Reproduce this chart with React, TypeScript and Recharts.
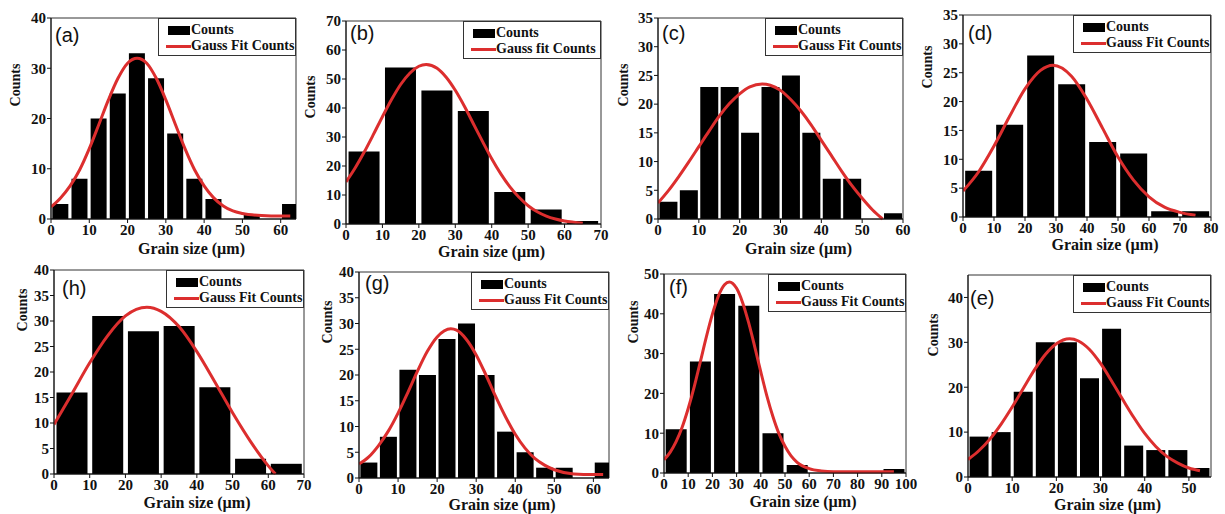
import React from "react";
import {
  ComposedChart,
  Bar,
  Line,
  XAxis,
  YAxis,
  Legend,
  ReferenceArea,
} from "recharts";

const SERIF = '"Liberation Serif", "Times New Roman", serif';
const SANS = '"Liberation Sans", Arial, sans-serif';
const RED = "#dc2e2e";
const INK = "#111";

// (a)
const binsA = [2.5, 7.5, 12.5, 17.5, 22.5, 27.5, 32.5, 37.5, 42.5, 47.5, 52.5, 57.5, 62.5];
const countsA = [3, 8, 20, 25, 33, 28, 17, 8, 4, 0, 1, 0, 3];
const fitXA = [0, 2.5, 5, 7.5, 10, 12.5, 15, 17.5, 20, 22.5, 25, 27.5, 30, 32.5, 35, 37.5, 40, 42.5, 45, 47.5, 50, 55, 60, 62.5];
const fitYA = [2.4, 4.2, 6.6, 9.8, 14.0, 18.8, 23.7, 28.0, 31.0, 32.0, 31.0, 28.0, 23.7, 18.8, 14.0, 9.8, 6.6, 4.2, 2.6, 1.6, 1.1, 0.7, 0.6, 0.6];
const xTicksA = [0, 10, 20, 30, 40, 50, 60];
const yTicksA = [0, 10, 20, 30, 40];

// (b)
const binsB = [5, 15, 25, 35, 45, 55, 65];
const countsB = [25, 54, 46, 39, 11, 5, 1];
const fitXB = [0, 2.5, 5, 7.5, 10, 12.5, 15, 17.5, 20, 22, 25, 27.5, 30, 32.5, 35, 37.5, 40, 42.5, 45, 47.5, 50, 52.5, 55, 57.5, 60, 62.5, 65];
const fitYB = [14.5, 19.3, 24.8, 30.8, 37.0, 42.9, 48.1, 52.0, 54.4, 55.0, 53.7, 50.6, 46.1, 40.6, 34.5, 28.4, 22.5, 17.3, 12.8, 9.2, 6.3, 4.2, 2.7, 1.7, 1.0, 0.6, 0.3];
const xTicksB = [0, 10, 20, 30, 40, 50, 60, 70];
const yTicksB = [0, 10, 20, 30, 40, 50, 60, 70];

// (c)
const binsC = [2.5, 7.5, 12.5, 17.5, 22.5, 27.5, 32.5, 37.5, 42.5, 47.5, 52.5, 57.5];
const countsC = [3, 5, 23, 23, 15, 23, 25, 15, 7, 7, 0, 1];
const fitXC = [0, 2.5, 5, 7.5, 10, 12.5, 15, 17.5, 20, 22.5, 25.5, 27.5, 30, 32.5, 35, 37.5, 40, 42.5, 45, 47.5, 50, 52.5, 55];
const fitYC = [2.8, 4.9, 7.3, 9.9, 12.6, 15.3, 17.9, 20.1, 21.8, 23.0, 23.5, 23.3, 22.4, 20.8, 18.8, 16.4, 13.7, 11.0, 8.3, 5.8, 3.6, 1.6, 0.0];
const xTicksC = [0, 10, 20, 30, 40, 50, 60];
const yTicksC = [0, 5, 10, 15, 20, 25, 30, 35];

// (d)
const binsD = [5, 15, 25, 35, 45, 55, 65, 75];
const countsD = [8, 16, 28, 23, 13, 11, 1, 1];
const fitXD = [0, 5, 10, 15, 20, 25, 29, 35, 40, 45, 50, 55, 60, 65, 70, 75];
const fitYD = [4.5, 7.8, 12.3, 17.4, 22.2, 25.4, 26.3, 24.4, 20.4, 15.4, 10.4, 6.4, 3.5, 1.7, 0.8, 0.3];
const xTicksD = [0, 10, 20, 30, 40, 50, 60, 70, 80];
const yTicksD = [0, 5, 10, 15, 20, 25, 30, 35];

// (h)
const binsH = [5, 15, 25, 35, 45, 55, 65];
const countsH = [16, 31, 28, 29, 17, 3, 2];
const fitXH = [0, 5, 10, 15, 20, 26, 30, 35, 40, 45, 50, 55, 60, 62];
const fitYH = [9.7, 15.7, 21.8, 27.1, 31.0, 32.7, 31.9, 28.9, 24.0, 18.1, 12.0, 6.4, 1.6, 0];
const xTicksH = [0, 10, 20, 30, 40, 50, 60, 70];
const yTicksH = [0, 5, 10, 15, 20, 25, 30, 35, 40];

// (g)
const binsG = [2.5, 7.5, 12.5, 17.5, 22.5, 27.5, 32.5, 37.5, 42.5, 47.5, 52.5, 57.5, 62.5];
const countsG = [3, 8, 21, 20, 27, 30, 20, 9, 5, 2, 2, 0, 3];
const fitXG = [0, 2.5, 5, 7.5, 10, 12.5, 15, 17.5, 20, 23.5, 25, 27.5, 30, 32.5, 35, 37.5, 40, 42.5, 45, 47.5, 50, 55, 60, 62.5];
const fitYG = [2.7, 4.1, 6.3, 9.1, 12.6, 16.6, 20.8, 24.6, 27.4, 29.0, 28.7, 26.9, 23.9, 20.0, 15.8, 11.9, 8.5, 5.8, 3.8, 2.5, 1.6, 0.8, 0.7, 0.7];
const xTicksG = [0, 10, 20, 30, 40, 50, 60];
const yTicksG = [0, 5, 10, 15, 20, 25, 30, 35, 40];

// (f)
const binsF = [5, 15, 25, 35, 45, 55, 65, 75, 85, 95];
const countsF = [11, 28, 45, 42, 10, 2, 0, 0, 0, 1];
const fitXF = [0, 2.5, 5, 7.5, 10, 12.5, 15, 17.5, 20, 22.5, 25, 27, 30, 32.5, 35, 37.5, 40, 42.5, 45, 47.5, 50, 52.5, 55, 60, 65, 70, 80, 90, 95];
const fitYF = [3.3, 5.2, 7.9, 11.5, 16.2, 21.7, 27.9, 34.2, 39.9, 44.5, 47.3, 48.0, 46.4, 42.8, 37.7, 31.7, 25.4, 19.4, 14.2, 9.9, 6.7, 4.3, 2.7, 1.1, 0.5, 0.3, 0.3, 0.3, 0.3];
const xTicksF = [0, 10, 20, 30, 40, 50, 60, 70, 80, 90, 100];
const yTicksF = [0, 10, 20, 30, 40, 50];

// (e)
const binsE = [2.5, 7.5, 12.5, 17.5, 22.5, 27.5, 32.5, 37.5, 42.5, 47.5, 52.5];
const countsE = [9, 10, 19, 30, 30, 22, 33, 7, 6, 6, 2];
const fitXE = [0, 2.5, 5, 7.5, 10, 12.5, 15, 17.5, 20, 23, 25, 27.5, 30, 32.5, 35, 37.5, 40, 42.5, 45, 47.5, 50, 52.5];
const fitYE = [3.9, 5.9, 8.5, 11.8, 15.6, 19.7, 23.8, 27.3, 29.7, 30.8, 30.3, 28.4, 25.3, 21.4, 17.3, 13.3, 9.7, 6.8, 4.6, 3.1, 2.0, 1.4];
const xTicksE = [0, 10, 20, 30, 40, 50];
const yTicksE = [0, 10, 20, 30, 40];

type Panel = {
  tag: string;
  bins: number[];
  counts: number[];
  fitX: number[];
  fitY: number[];
  xTicks: number[];
  yTicks: number[];
  xMax: number;
  yMax: number;
  fitName: string;
  box: { l: number; t: number; r: number; b: number };
  tagDx: number;
  tagDy: number;
  countsDx: number;
  countsDy: number;
  titleDy: number;
};

const panels: Panel[] = [
  { tag: "(a)", bins: binsA, counts: countsA, fitX: fitXA, fitY: fitYA, xTicks: xTicksA, yTicks: yTicksA, xMax: 64, yMax: 40, fitName: "Gauss Fit Counts", box: { l: 51, t: 18, r: 296, b: 219 }, tagDx: 4, tagDy: 17, countsDx: -36, countsDy: 67, titleDy: 29 },
  { tag: "(b)", bins: binsB, counts: countsB, fitX: fitXB, fitY: fitYB, xTicks: xTicksB, yTicks: yTicksB, xMax: 70, yMax: 70, fitName: "Gauss fit Counts", box: { l: 346, t: 21, r: 601, b: 224 }, tagDx: 4, tagDy: 12, countsDx: -36, countsDy: 76, titleDy: 27 },
  { tag: "(c)", bins: binsC, counts: countsC, fitX: fitXC, fitY: fitYC, xTicks: xTicksC, yTicks: yTicksC, xMax: 60, yMax: 35, fitName: "Gauss Fit Counts", box: { l: 658, t: 18, r: 903, b: 219 }, tagDx: 4, tagDy: 15, countsDx: -35, countsDy: 67, titleDy: 29 },
  { tag: "(d)", bins: binsD, counts: countsD, fitX: fitXD, fitY: fitYD, xTicks: xTicksD, yTicks: yTicksD, xMax: 80, yMax: 35, fitName: "Gauss Fit Counts", box: { l: 963, t: 15, r: 1211, b: 217 }, tagDx: 5, tagDy: 18, countsDx: -36, countsDy: 52, titleDy: 27 },
  { tag: "(h)", bins: binsH, counts: countsH, fitX: fitXH, fitY: fitYH, xTicks: xTicksH, yTicks: yTicksH, xMax: 70, yMax: 40, fitName: "Gauss Fit Counts", box: { l: 54, t: 270, r: 304, b: 474 }, tagDx: 8, tagDy: 18, countsDx: -32, countsDy: 40, titleDy: 28 },
  { tag: "(g)", bins: binsG, counts: countsG, fitX: fitXG, fitY: fitYG, xTicks: xTicksG, yTicks: yTicksG, xMax: 64, yMax: 40, fitName: "Gauss Fit Counts", box: { l: 359, t: 272, r: 609, b: 478 }, tagDx: 6, tagDy: 11, countsDx: -32, countsDy: 50, titleDy: 26 },
  { tag: "(f)", bins: binsF, counts: countsF, fitX: fitXF, fitY: fitYF, xTicks: xTicksF, yTicks: yTicksF, xMax: 100, yMax: 50, fitName: "Gauss Fit Counts", box: { l: 664, t: 274, r: 906, b: 473 }, tagDx: 5, tagDy: 13, countsDx: -31, countsDy: 48, titleDy: 28 },
  { tag: "(e)", bins: binsE, counts: countsE, fitX: fitXE, fitY: fitYE, xTicks: xTicksE, yTicks: yTicksE, xMax: 55, yMax: 45, fitName: "Gauss Fit Counts", box: { l: 968, t: 275, r: 1211, b: 477 }, tagDx: 2, tagDy: 23, countsDx: -35, countsDy: 60, titleDy: 27 },
];

const YW = 46;
const XH = 40;
const MT = 10;
const MR = 14;

function HistLegend(props: any) {
  const items = props.payload || [];
  return (
    <div
      style={{
        boxSizing: "border-box",
        width: 138,
        height: 38,
        border: "1px solid #333",
        background: "#fff",
        padding: "3px 0 0 7px",
        fontFamily: SERIF,
        fontWeight: 700,
        fontSize: 14,
        lineHeight: "16px",
        color: INK,
        whiteSpace: "nowrap",
      }}>
      {items.map((item: any) => (
        <div key={item.value} style={{ display: "flex", alignItems: "center", height: 16 }}>
          {item.type === "line" ? (
            <span style={{ display: "inline-block", width: 25, height: 3, background: item.color }} />
          ) : (
            <span style={{ display: "inline-block", width: 22, height: 9, marginLeft: 2, marginRight: 1, background: item.color }} />
          )}
          <span>{item.value}</span>
        </div>
      ))}
    </div>
  );
}

function HistPanel({ p }: { p: Panel }) {
  const binData = p.bins.map((x, i) => ({ x, count: p.counts[i] }));
  const fitData = p.fitX.map((x, i) => ({ x, fit: p.fitY[i] }));
  const plotW = p.box.r - p.box.l;
  const plotH = p.box.b - p.box.t;
  const w = plotW + YW + MR;
  const h = plotH + MT + XH;
  const tick = { fill: INK, fontSize: 15, fontFamily: SERIF, fontWeight: 700 };

  const xTitle = () => (
    <text
      x={YW + plotW / 2 + 18}
      y={MT + plotH + p.titleDy}
      textAnchor="middle"
      dominantBaseline="central"
      fill={INK}
      style={{ fontFamily: SERIF, fontWeight: 700, fontSize: 16 }}>
      Grain size (µm)
    </text>
  );
  const yTitle = () => {
    const x = YW + p.countsDx;
    const y = MT + p.countsDy;
    return (
      <text
        x={x}
        y={y}
        transform={`rotate(-90 ${x} ${y})`}
        textAnchor="middle"
        dominantBaseline="central"
        fill={INK}
        style={{ fontFamily: SERIF, fontWeight: 700, fontSize: 14 }}>
        Counts
      </text>
    );
  };

  return (
    <div style={{ position: "absolute", left: p.box.l - YW, top: p.box.t - MT, width: w, height: h }}>
      <ComposedChart
        width={w}
        height={h}
        data={binData}
        margin={{ top: MT, right: MR, bottom: 0, left: 0 }}
        barCategoryGap="7%">
        <XAxis
          xAxisId="bin"
          dataKey="x"
          type="number"
          domain={[0, p.xMax]}
          ticks={p.xTicks}
          interval={0}
          allowDataOverflow
          height={XH}
          tick={tick}
          tickSize={4}
          tickMargin={1}
          stroke={INK}
          label={xTitle}
        />
        <XAxis xAxisId="fit" dataKey="x" type="number" domain={[0, p.xMax]} allowDataOverflow hide />
        <YAxis
          type="number"
          domain={[0, p.yMax]}
          ticks={p.yTicks}
          interval={0}
          width={YW}
          tick={tick}
          tickSize={4}
          tickMargin={1}
          stroke={INK}
          label={yTitle}
        />
        <Bar xAxisId="bin" dataKey="count" name="Counts" fill="#000" isAnimationActive={false} />
        <Line
          xAxisId="fit"
          data={fitData}
          dataKey="fit"
          name={p.fitName}
          type="monotone"
          stroke={RED}
          strokeWidth={3}
          dot={false}
          isAnimationActive={false}
        />
        <ReferenceArea
          xAxisId="bin"
          x1={0}
          x2={p.xMax}
          y1={0}
          y2={p.yMax}
          fill="none"
          stroke="#333"
          strokeWidth={1}
          ifOverflow="visible"
        />
        <Legend
          layout="horizontal"
          verticalAlign="middle"
          align="center"
          wrapperStyle={{ top: MT, right: MR, width: 138, height: 38 }}
          content={HistLegend}
        />
      </ComposedChart>
      <div
        style={{
          position: "absolute",
          left: YW + p.tagDx,
          top: MT + p.tagDy - 11,
          fontFamily: SANS,
          fontSize: 20,
          lineHeight: "22px",
          color: INK,
        }}>
        {p.tag}
      </div>
    </div>
  );
}

export default function App() {
  return (
    <div
      style={{
        position: "absolute",
        left: 0,
        top: 0,
        width: 1225,
        height: 514,
        background: "#fff",
        overflow: "hidden",
      }}>
      {panels.map((p) => (
        <HistPanel key={p.tag} p={p} />
      ))}
    </div>
  );
}
